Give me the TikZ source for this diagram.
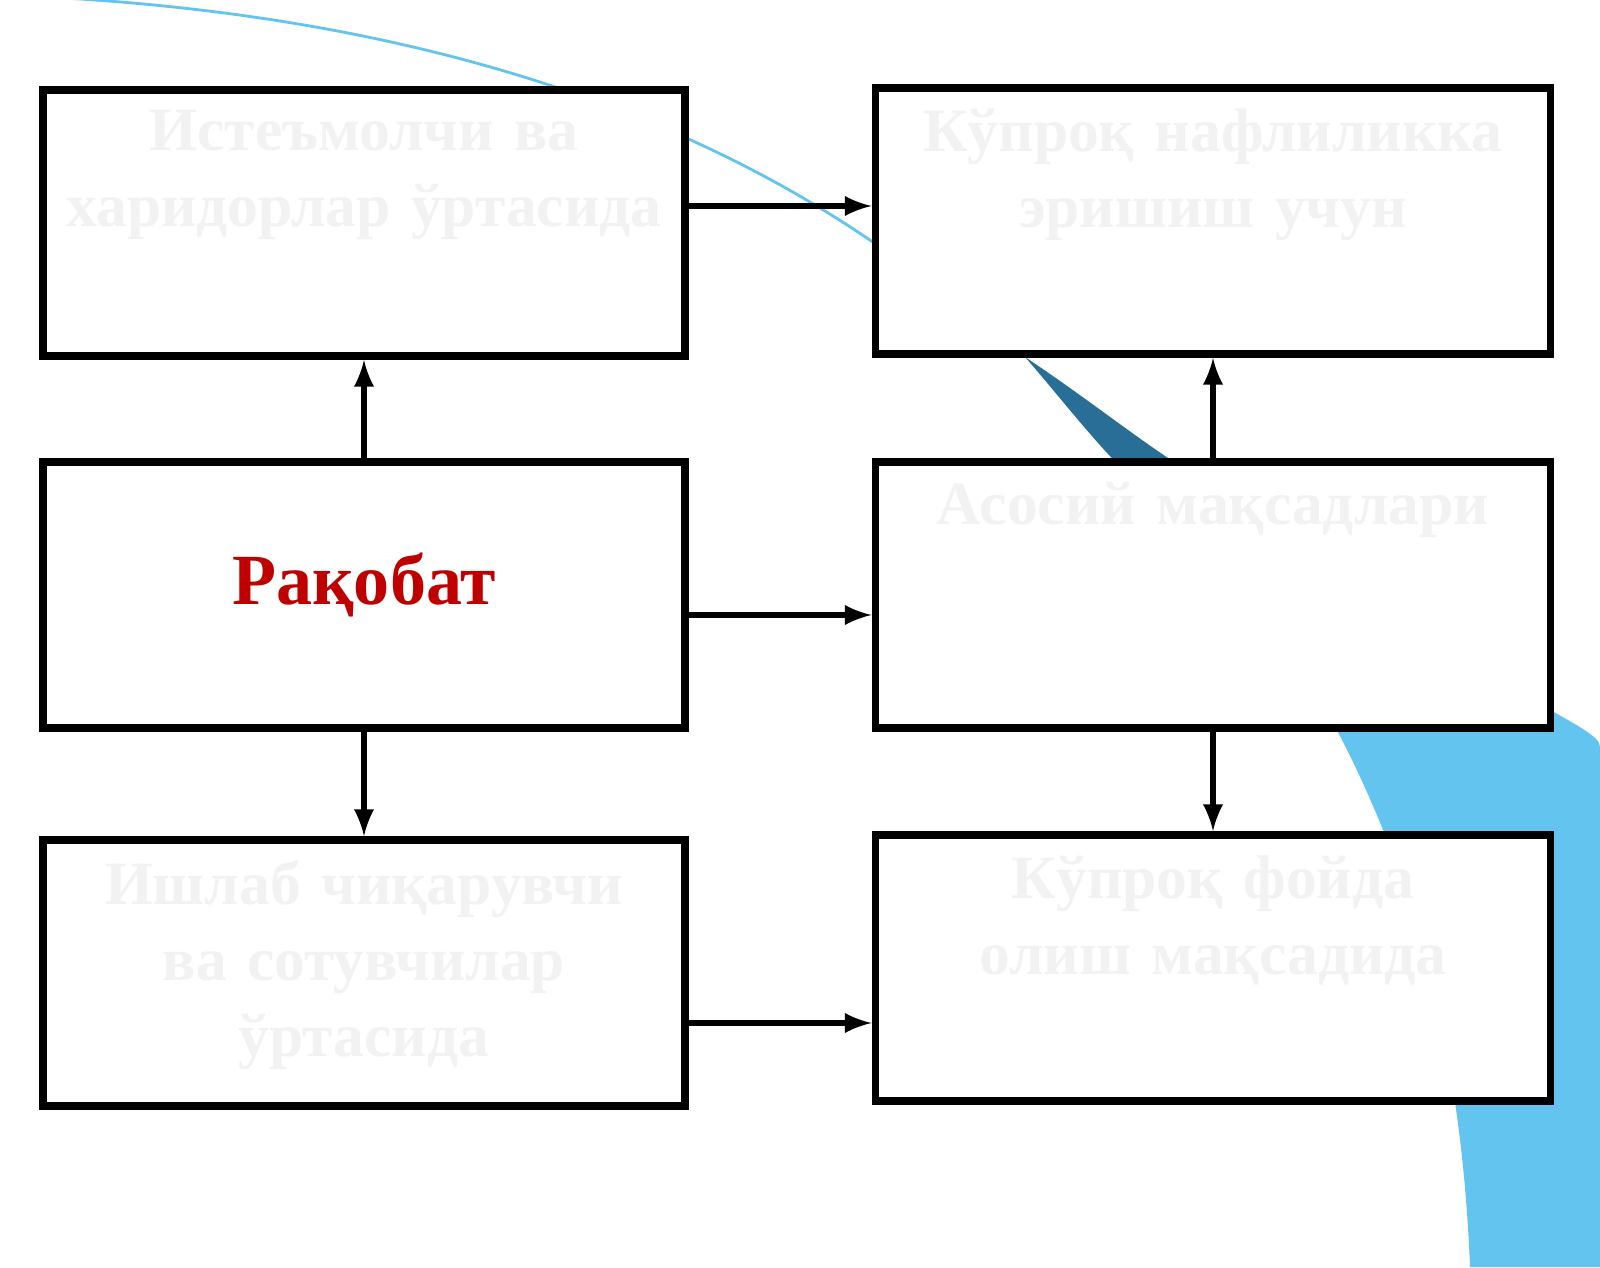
\documentclass[tikz,border=0pt]{standalone}
\usepackage{fontspec}
\setmainfont{Liberation Serif}
\usepackage{tikz}
\usetikzlibrary{positioning}
\definecolor{skyblue}{RGB}{100,196,240}
\definecolor{deepblue}{RGB}{40,110,150}
\tikzset{
  box/.style={draw=black, fill=white, line width=2.2pt, minimum height=2.66cm, inner sep=4pt},
  ghost/.style={text=black!5, font=\bfseries\fontsize{17.5}{21.6}\selectfont, align=center},
  link/.style={-latex, line width=1.6pt}
}
\begin{document}
\begin{tikzpicture}
            \useasboundingbox (0,0) rectangle (16,12.67);
            % background
            \fill[white] (0,0) rectangle (16,12.67);
            \draw[skyblue, line width=0.8pt] (0,12.72) .. controls (3.5,12.6) and (6.5,11.8) .. (8.8,10.2);
            \fill[deepblue] (10.25,9.1) .. controls (11,8.6) and (11.6,8.1) .. (12.0,7.9) -- (11.3,7.9) .. controls (10.9,8.3) and (10.6,8.7) .. (10.25,9.1);
            \fill[skyblue] (13.3,5.5) -- (15.45,5.6) .. controls (15.8,5.4) and (16,5.3) .. (16,5.2) -- (16,0) -- (14.7,0) .. controls (14.6,2.5) and (14.0,4.2) .. (13.3,5.5);

            \node[box, minimum width=6.42cm] (cons) at (3.64,10.44) {};
            \node[box, minimum width=6.75cm] (util) at (12.13,10.46) {};
            \node[box, minimum width=6.42cm] (comp) at (3.64,6.72) {};
            \node[box, minimum width=6.75cm] (goal) at (12.13,6.72) {};
            \node[box, minimum width=6.42cm] (prod) at (3.64,2.94) {};
            \node[box, minimum width=6.75cm] (profit) at (12.13,2.99) {};

            \node[ghost, text width=6cm, below=0.12cm of cons.north] {Истеъмолчи ва харидорлар ўртасида};
            \node[ghost, text width=6.4cm, below=0.12cm of util.north] {Кўпроқ нафлиликка эришиш учун};
            \node[text=red!75!black, font=\bfseries\fontsize{20.5}{24}\selectfont] at ([yshift=0.1cm]comp.center) {Рақобат};
            \node[ghost, text width=6.4cm, below=0.12cm of goal.north] {Асосий мақсадлари};
            \node[ghost, text width=6cm, below=0.12cm of prod.north] {Ишлаб чиқарувчи ва сотувчилар ўртасида};
            \node[ghost, text width=6.4cm, below=0.12cm of profit.north] {Кўпроқ фойда олиш мақсадида};

            \draw[link] (comp) -- (cons);
            \draw[link] (comp) -- (prod);
            \draw[link] ([yshift=-0.2cm]comp.east) -- ([yshift=-0.2cm]goal.west);
            \draw[link] ([yshift=0.17cm]cons.east) -- ([yshift=0.15cm]util.west);
            \draw[link] (goal) -- (util);
            \draw[link] (goal) -- (profit);
            \draw[link] ([yshift=-0.5cm]prod.east) -- ([yshift=-0.55cm]profit.west);
        \end{tikzpicture}
\end{document}
